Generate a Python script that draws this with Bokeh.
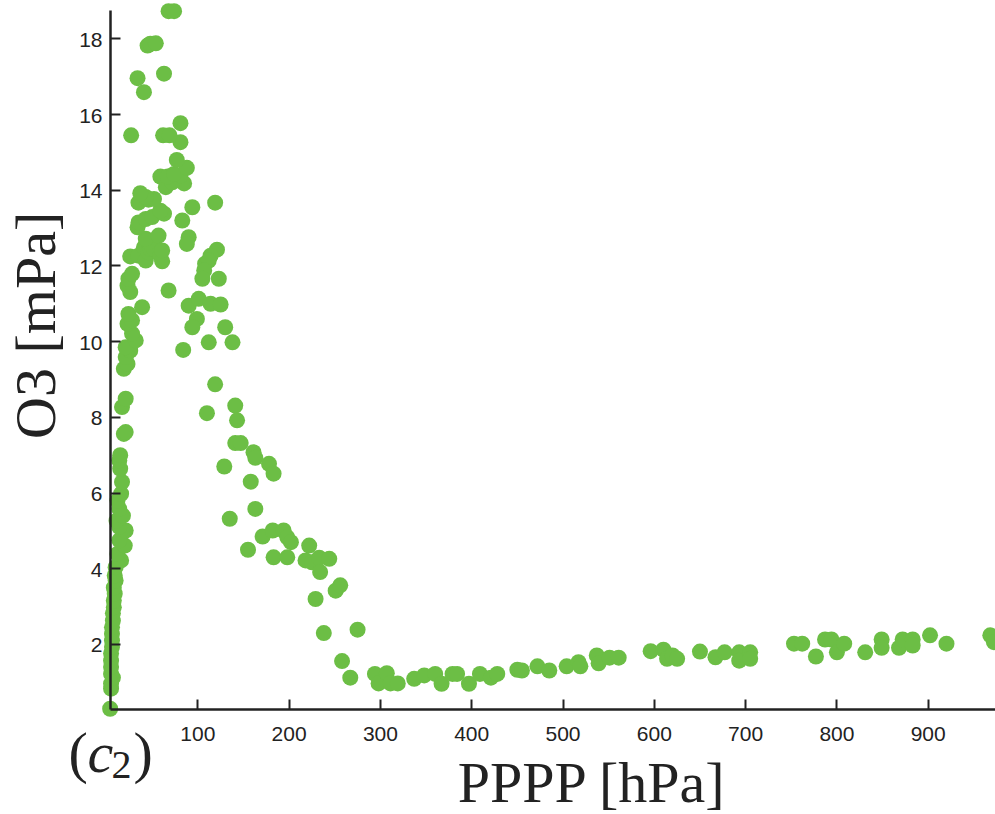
import math
from bokeh.plotting import figure
from bokeh.models import Range1d, FixedTicker
from bokeh.core.properties import value
from bokeh.embed import file_html
from bokeh.resources import INLINE

# ---- data (pressure in hPa, ozone partial pressure in mPa) ----
rise_p = [4, 5, 5, 7, 5, 5, 5, 5, 6, 6, 6, 6, 7, 7, 8, 8, 9, 8, 10, 9, 10, 16, 12, 20,
          14, 21, 14, 11, 18, 14, 12, 16, 17, 15, 14, 15, 19, 21, 17, 21, 19, 23, 21, 26,
          21, 32, 28, 23, 28, 24, 39, 26, 23, 24, 28, 26, 35, 43, 41, 46, 48, 52, 46, 43,
          57, 59, 61, 61, 34, 35, 43, 50, 63, 59, 35, 46, 52, 43, 37, 65, 85, 72, 59, 67,
          81, 74, 88, 77, 81, 27, 62, 69, 81, 41, 34, 63, 45, 48, 54, 68, 74]
rise_o3 = [0.30, 0.83, 0.96, 1.12, 1.22, 1.40, 1.57, 1.76, 1.93, 2.10, 2.28, 2.45, 2.63,
           2.82, 2.98, 3.16, 3.34, 3.50, 3.69, 3.82, 4.04, 4.22, 4.39, 4.61, 4.75, 5.01,
           5.10, 5.27, 5.40, 5.58, 5.80, 5.98, 6.29, 6.64, 6.86, 7.00, 7.56, 7.61, 8.27,
           8.49, 9.28, 9.41, 9.59, 9.76, 9.85, 10.03, 10.21, 10.47, 10.56, 10.73, 10.91,
           11.31, 11.48, 11.66, 11.79, 12.25, 12.27, 12.14, 12.49, 12.36, 12.45, 12.45,
           12.63, 12.72, 12.80, 12.27, 12.12, 12.41, 13.02, 13.15, 13.24, 13.29, 13.38,
           13.46, 13.67, 13.75, 13.77, 13.82, 13.92, 14.08, 14.18, 14.21, 14.36, 14.36,
           14.39, 14.43, 14.59, 14.80, 15.27, 15.45, 15.45, 15.45, 15.77, 16.59, 16.96,
           17.08, 17.82, 17.87, 17.88, 18.73, 18.73]

fall_p = [94, 119, 83, 90, 88, 121, 114, 108, 112, 107, 105, 123, 68, 90, 101, 114, 125,
          99, 94, 84, 112, 130, 138, 119, 141, 143, 110, 141, 147, 161, 163, 129, 178,
          183, 158, 163, 135, 171, 182, 194, 198, 202, 155, 183, 198, 222, 218, 225, 233,
          244, 234, 251, 256, 229, 238, 275, 258, 267]
fall_o3 = [13.55, 13.67, 13.20, 12.76, 12.58, 12.43, 12.27, 12.06, 12.14, 11.88, 11.66,
           11.66, 11.35, 10.95, 11.13, 11.00, 10.98, 10.60, 10.38, 9.78, 9.98, 10.38,
           9.98, 8.87, 8.31, 7.92, 8.11, 7.32, 7.32, 7.08, 6.93, 6.70, 6.77, 6.51, 6.30,
           5.58, 5.32, 4.85, 5.01, 5.01, 4.83, 4.70, 4.50, 4.30, 4.30, 4.61, 4.22, 4.17,
           4.29, 4.26, 3.91, 3.42, 3.56, 3.20, 2.30, 2.39, 1.56, 1.12]

tail_p = [294, 298, 307, 311, 319, 337, 348, 360, 367, 379, 384, 397, 409, 421, 428, 450,
          455, 472, 485, 504, 517, 519, 537, 539, 551, 561, 596, 610, 614, 620, 625, 650,
          667, 677, 693, 693, 705, 705, 753, 762, 777, 787, 794, 800, 808, 831, 849, 849,
          868, 872, 883, 883, 902, 920, 968, 972]
tail_o3 = [1.22, 0.97, 1.24, 0.97, 0.97, 1.09, 1.18, 1.22, 0.96, 1.22, 1.22, 0.96, 1.22,
           1.12, 1.22, 1.33, 1.31, 1.42, 1.31, 1.42, 1.53, 1.42, 1.71, 1.50, 1.65, 1.65,
           1.82, 1.86, 1.62, 1.71, 1.62, 1.81, 1.66, 1.79, 1.79, 1.57, 1.79, 1.62, 2.02,
           2.02, 1.68, 2.13, 2.13, 1.79, 2.02, 1.79, 2.13, 1.91, 1.91, 2.13, 2.13, 1.97,
           2.24, 2.02, 2.24, 2.06]

x_ticks = [100, 200, 300, 400, 500, 600, 700, 800, 900]
y_ticks = [2, 4, 6, 8, 10, 12, 14, 16, 18]
x_tick_labels = [str(t) for t in x_ticks]
y_tick_labels = [str(t) for t in y_ticks]

x_title = "PPPP [hPa]"
y_title = "O3 [mPa]"

pressure = rise_p + fall_p + tail_p
ozone = rise_o3 + fall_o3 + tail_o3

GREEN = "#6cbe45"
INK = "#222222"
SERIF = value("Liberation Serif")
SANS = value("Liberation Sans")

# axes cross at the lowest data point (tight MATLAB-like limits)
x_lo = min(pressure) + 0.4
y_lo = min(ozone) - 0.03
y_hi = max(ozone) + 0.02

p = figure(width=995, height=814, output_backend="svg", toolbar_location=None,
           x_range=Range1d(-116.1, 973.7), y_range=Range1d(-2.494, 19.012),
           min_border_left=0, min_border_right=0, min_border_top=0,
           min_border_bottom=0)
p.grid.visible = False
p.outline_line_color = None
p.background_fill_color = "white"
p.border_fill_color = "white"

p.scatter(pressure, ozone, size=16, fill_color=GREEN, line_color=None)

xa = p.xaxis[0]
ya = p.yaxis[0]
xa.fixed_location = y_lo
ya.fixed_location = x_lo
xa.bounds = (x_lo, 1000)
ya.bounds = (y_lo, y_hi)
xa.ticker = FixedTicker(ticks=x_ticks)
ya.ticker = FixedTicker(ticks=y_ticks)
for ax in (xa, ya):
    ax.axis_line_color = INK
    ax.axis_line_width = 2.5
    ax.major_tick_line_color = INK
    ax.major_tick_line_width = 2
    ax.major_tick_in = 10
    ax.major_tick_out = 0
    ax.minor_tick_line_color = None
    ax.major_label_text_font_size = "1px"
    ax.major_label_text_color = None
    ax.major_label_standoff = 0

# tick labels drawn as text inside the frame
p.text(x=x_ticks, y=[y_lo] * len(x_ticks), text=x_tick_labels,
       text_font=SANS, text_font_size="21px", text_color=INK,
       text_align="center", text_baseline="middle", y_offset=24)
p.text(x=[x_lo] * len(y_ticks), y=y_ticks, text=y_tick_labels,
       text_font=SANS, text_font_size="21px", text_color=INK,
       text_align="right", text_baseline="middle", x_offset=-8, y_offset=1)

# axis titles and panel tag
p.text(x=[532], y=[-1.65], text=[x_title], text_font=SERIF,
       text_font_size="58px", text_color=INK, text_align="center",
       text_baseline="middle")
p.text(x=[-77.4], y=[10.43], text=[y_title], angle=math.pi / 2,
       text_font=SERIF, text_font_size="58px", text_color=INK,
       text_align="center", text_baseline="middle")
p.text(x=[-41.6], y=[-0.864], text=["("], text_font=SERIF,
       text_font_size="58px", text_color=INK, text_align="left",
       text_baseline="middle")
p.text(x=[-20.8], y=[-0.864], text=["c"], text_font=SERIF,
       text_font_style="italic", text_font_size="58px", text_color=INK,
       text_align="left", text_baseline="middle")
p.text(x=[5.5], y=[-1.18], text=["2"], text_font=SERIF,
       text_font_size="40px", text_color=INK, text_align="left",
       text_baseline="middle")
p.text(x=[29.6], y=[-0.864], text=[")"], text_font=SERIF,
       text_font_size="58px", text_color=INK, text_align="left",
       text_baseline="middle")

open("out.html", "w").write(file_html(p, INLINE))
